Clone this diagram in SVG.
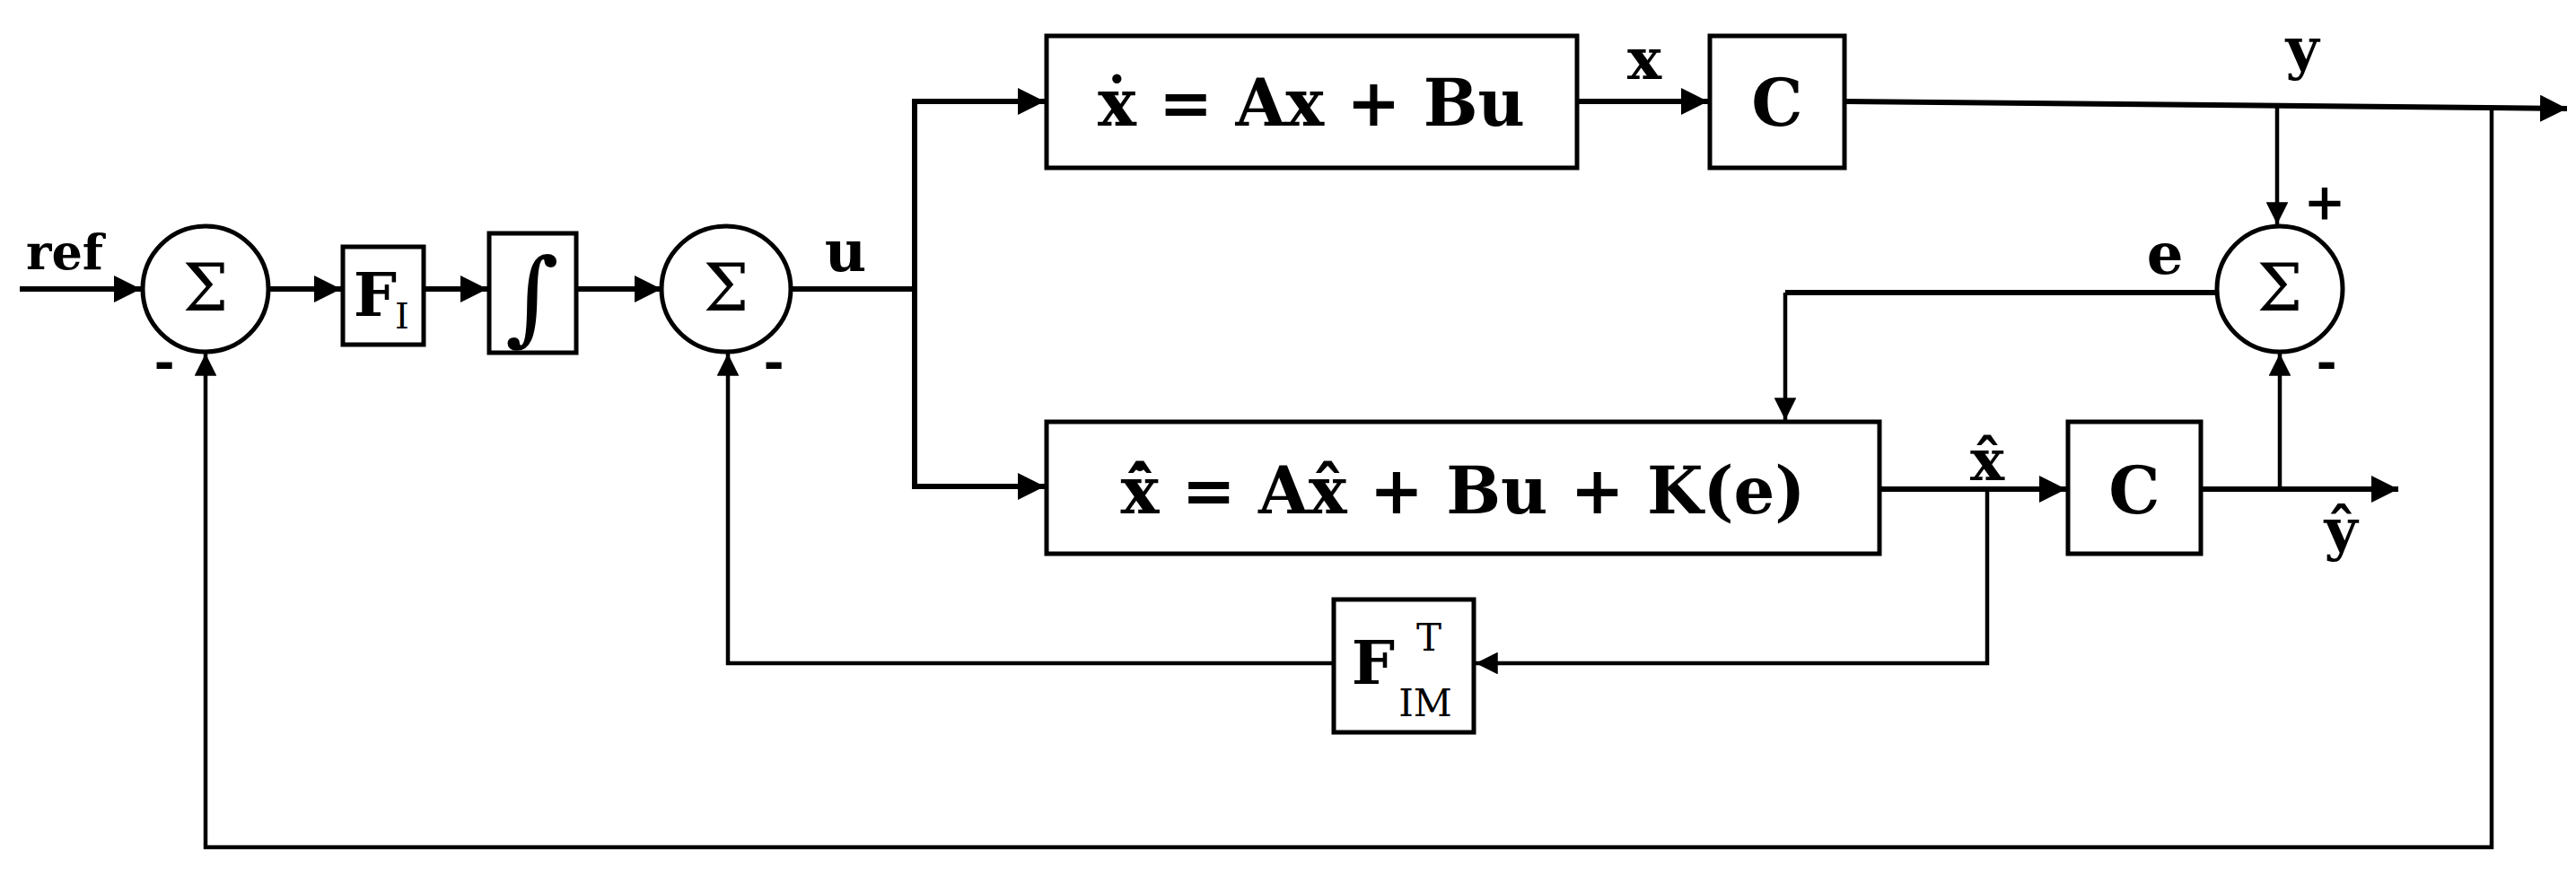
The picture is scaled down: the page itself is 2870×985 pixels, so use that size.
<svg xmlns="http://www.w3.org/2000/svg" width="2870" height="985" viewBox="0 0 2870 985">
<style>
.b{fill:#fff;stroke:#000;stroke-width:5}
.l{fill:none;stroke:#000;stroke-width:6}
.t{stroke-width:4.5}
text{font-family:"DejaVu Serif","Liberation Serif",serif;font-weight:bold;fill:#000;text-anchor:middle}
.n{font-weight:normal}
</style>
<defs><marker id="a" viewBox="0 0 10 10" refX="10" refY="5" markerWidth="5" markerHeight="5" orient="auto"><path d="M0,0L10,5L0,10z"/></marker>
<marker id="s" viewBox="0 0 10 10" refX="10" refY="5" markerWidth="6.5" markerHeight="5.5" orient="auto"><path d="M0,0L10,5L0,10z"/></marker></defs>
<rect width="2870" height="985" fill="#fff"/>
<g id="connectors">
<path class="l" d="M22,322H157" marker-end="url(#a)"/>
<path class="l" d="M299,322H380" marker-end="url(#a)"/>
<path class="l" d="M472,322H543" marker-end="url(#a)"/>
<path class="l" d="M642,322H737" marker-end="url(#a)"/>
<path class="l" d="M881,322H1019V113H1164" marker-end="url(#a)"/>
<path class="l" d="M1019,322V542H1164" marker-end="url(#a)"/>
<path class="l" d="M1757,113H1903" marker-end="url(#a)"/>
<path class="l" d="M2055,113L2860,121" marker-end="url(#a)"/>
<path class="l t" d="M2537,118V250" marker-end="url(#s)"/>
<path class="l" d="M2470,326H1989"/>
<path class="l t" d="M1989,326V468" marker-end="url(#s)"/>
<path class="l" d="M2094,545H2302" marker-end="url(#a)"/>
<path class="l" d="M2452,545H2672" marker-end="url(#a)"/>
<path class="l t" d="M2540,545V394" marker-end="url(#s)"/>
<path class="l t" d="M2214,545V739H1644" marker-end="url(#s)"/>
<path class="l t" d="M1486,739H811V394" marker-end="url(#s)"/>
<path class="l t" d="M2776,120V944H229V394" marker-end="url(#s)"/>
</g>
<g id="sum1"><ellipse class="b" cx="229" cy="322" rx="70" ry="70"/><text class="n" x="229" y="346" font-size="72">Σ</text></g>
<g id="FI"><rect class="b" x="382" y="275" width="90" height="109"/><text x="418" y="352" font-size="68">F</text><text class="n" x="448" y="366" font-size="40">I</text></g>
<g id="int"><rect class="b" x="545" y="260" width="97" height="133"/><text class="n" x="593" y="370" font-size="115">∫</text></g>
<g id="sum2"><ellipse class="b" cx="809" cy="322" rx="72" ry="70"/><text class="n" x="809" y="346" font-size="72">Σ</text></g>
<g id="plant"><rect class="b" x="1166" y="40" width="591" height="147"/><text x="1461" y="140" font-size="72">ẋ = Ax + Bu</text></g>
<g id="C1"><rect class="b" x="1905" y="40" width="150" height="147"/><text x="1980" y="140" font-size="72">C</text></g>
<g id="sum3"><ellipse class="b" cx="2540" cy="322" rx="70" ry="70"/><text class="n" x="2540" y="346" font-size="72">Σ</text></g>
<g id="observer"><rect class="b" x="1166" y="470" width="928" height="147"/><text x="1630" y="572" font-size="72">x̂̇ = Ax̂ + Bu + K(e)</text></g>
<g id="C2"><rect class="b" x="2304" y="470" width="148" height="147"/><text x="2378" y="572" font-size="72">C</text></g>
<g id="FIM"><rect class="b" x="1486" y="668" width="156" height="148"/><text x="1530" y="762" font-size="68">F</text><text class="n" x="1592" y="725" font-size="42">T</text><text class="n" x="1588" y="798" font-size="42">IM</text></g>
<g id="labels">
<text x="72" y="300" font-size="54">ref</text>
<text x="183" y="422" font-size="56">-</text>
<text x="862" y="422" font-size="56">-</text>
<text x="942" y="302" font-size="64">u</text>
<text x="1832" y="88" font-size="64">x</text>
<text x="2565" y="76" font-size="64">y</text>
<text x="2590" y="245" font-size="56">+</text>
<text x="2592" y="422" font-size="56">-</text>
<text x="2412" y="305" font-size="64">e</text>
<text x="2214" y="535" font-size="64">x̂</text>
<text x="2608" y="612" font-size="64">ŷ</text>
</g>
</svg>
